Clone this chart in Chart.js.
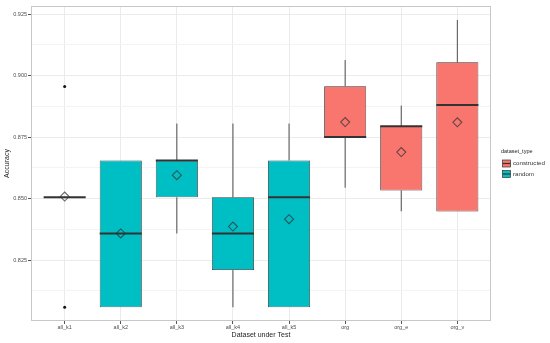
<!DOCTYPE html>
<html>
<head>
<meta charset="utf-8">
<script src="https://cdn.jsdelivr.net/npm/chart.js@4.4.1/dist/chart.umd.min.js"></script>
<style>
html, body { margin: 0; padding: 0; background: #fff; }
#wrap { width: 550px; height: 343px; }
</style>
</head>
<body>
<div id="wrap"><canvas id="box-chart"></canvas></div>
<script>
// data
const categories = ['all_k1', 'all_k2', 'all_k3', 'all_k4', 'all_k5', 'org', 'org_e', 'org_v'];
const types = ['random', 'random', 'random', 'random', 'random', 'constructed', 'constructed', 'constructed'];
const whiskerLow = [0.8505, 0.8058, 0.8358, 0.8058, 0.8058, 0.8544, 0.8448, 0.8447];
const q1 = [0.8505, 0.8058, 0.8505, 0.8209, 0.8058, 0.8750, 0.8533, 0.8447];
const median = [0.8505, 0.8358, 0.8655, 0.8358, 0.8505, 0.8750, 0.8794, 0.8880];
const q3 = [0.8505, 0.8655, 0.8655, 0.8505, 0.8655, 0.8957, 0.8794, 0.9054];
const whiskerHigh = [0.8505, 0.8655, 0.8805, 0.8805, 0.8805, 0.9063, 0.8878, 0.9226];
const means = [0.8508, 0.8358, 0.8595, 0.8386, 0.8416, 0.8811, 0.8689, 0.8810];
const outlierCats = ['all_k1', 'all_k1'];
const outlierValues = [0.8956, 0.8058];

const yMajorTicks = [0.825, 0.850, 0.875, 0.900, 0.925];
const yMinorTicks = [0.8125, 0.8375, 0.8625, 0.8875, 0.9125];

const typeNames = ['constructed', 'random'];
const typeColors = { constructed: '#F8766D', random: '#00BFC4' };

const FONT = '"Liberation Sans", Arial, sans-serif';

function isMajor(v) {
	return yMajorTicks.some(t => Math.abs(t - v) < 1e-6);
}

function boxData(type) {
	const out = [];
	categories.forEach((c, i) => {
		if (types[i] === type) out.push({ x: i + 1, y: [q1[i], q3[i]] });
	});
	return out;
}

// whiskers + medians, drawn between the boxes and the mean diamonds
const boxLines = {
	id: 'boxLines',
	beforeDatasetDraw(chart, args) {
		if (chart.data.datasets[args.index].label !== 'mean') return;
		const x = chart.scales.x, y = chart.scales.y, ctx = chart.ctx;
		const half = 0.375 * (x.getPixelForValue(2) - x.getPixelForValue(1));
		ctx.save();
		categories.forEach((c, i) => {
			const px = x.getPixelForValue(i + 1);
			ctx.strokeStyle = '#4d4d4d';
			ctx.lineWidth = 1;
			ctx.beginPath();
			ctx.moveTo(px, y.getPixelForValue(q3[i]));
			ctx.lineTo(px, y.getPixelForValue(whiskerHigh[i]));
			ctx.moveTo(px, y.getPixelForValue(q1[i]));
			ctx.lineTo(px, y.getPixelForValue(whiskerLow[i]));
			ctx.stroke();
			const py = y.getPixelForValue(median[i]);
			ctx.strokeStyle = '#333';
			ctx.lineWidth = 2;
			ctx.beginPath();
			ctx.moveTo(px - half, py);
			ctx.lineTo(px + half, py);
			ctx.stroke();
		});
		ctx.restore();
	}
};

const panelBorder = {
	id: 'panelBorder',
	afterDraw(chart) {
		const a = chart.chartArea, ctx = chart.ctx;
		ctx.save();
		ctx.strokeStyle = '#c8c8c8';
		ctx.lineWidth = 1;
		ctx.strokeRect(a.left + 0.5, a.top + 0.5, a.right - a.left - 1, a.bottom - a.top - 1);
		ctx.restore();
	}
};

// ggplot style legend at the right of the panel
const ggLegend = {
	id: 'ggLegend',
	afterDraw(chart) {
		const ctx = chart.ctx, a = chart.chartArea;
		const x0 = a.right + 10, yc = (a.top + a.bottom) / 2;
		ctx.save();
		ctx.textAlign = 'left';
		ctx.textBaseline = 'middle';
		ctx.fillStyle = '#222';
		ctx.font = '5.5px ' + FONT;
		ctx.fillText('dataset_type', x0, yc - 12.5);
		typeNames.forEach((t, k) => {
			const ky = yc + k * 10.5;
			ctx.fillStyle = typeColors[t];
			ctx.strokeStyle = '#333';
			ctx.lineWidth = 0.7;
			ctx.fillRect(x0 + 1.5, ky - 3.5, 8, 7);
			ctx.strokeRect(x0 + 1.5, ky - 3.5, 8, 7);
			ctx.beginPath();
			ctx.lineWidth = 1.2;
			ctx.moveTo(x0 + 1.5, ky);
			ctx.lineTo(x0 + 9.5, ky);
			ctx.stroke();
			ctx.fillStyle = '#333';
			ctx.font = '6.2px ' + FONT;
			ctx.fillText(t, x0 + 12, ky);
		});
		ctx.restore();
	}
};

new Chart(document.getElementById('box-chart'), {
	type: 'bar',
	data: {
		datasets: [{
				type: 'scatter',
				label: 'mean',
				data: categories.map((c, i) => ({ x: i + 1, y: means[i] })),
				pointStyle: 'rectRot',
				pointRadius: 4.5,
				borderWidth: 1.1,
				borderColor: 'rgba(51,51,51,0.75)',
				backgroundColor: 'rgba(0,0,0,0)',
				order: 1
			}, {
				type: 'scatter',
				label: 'outlier',
				data: outlierCats.map((c, i) => ({ x: categories.indexOf(c) + 1, y: outlierValues[i] })),
				pointStyle: 'circle',
				pointRadius: 1.5,
				borderWidth: 0,
				backgroundColor: '#111',
				order: 1
			}, {
				label: 'constructed',
				data: boxData('constructed'),
				backgroundColor: typeColors.constructed,
				borderColor: '#333',
				borderWidth: 0.8,
				borderSkipped: false,
				grouped: false,
				barPercentage: 0.75,
				categoryPercentage: 1,
				order: 2
			}, {
				label: 'random',
				data: boxData('random'),
				backgroundColor: typeColors.random,
				borderColor: '#333',
				borderWidth: 0.8,
				borderSkipped: false,
				grouped: false,
				barPercentage: 0.75,
				categoryPercentage: 1,
				order: 2
			}
		]
	},
	options: {
		responsive: true,
		maintainAspectRatio: false,
		animation: false,
		devicePixelRatio: 1,
		layout: { padding: { top: 6, right: 59, left: 0, bottom: 0 } },
		plugins: {
			legend: { display: false },
			tooltip: { enabled: false }
		},
		scales: {
			x: {
				type: 'linear',
				min: 0.4,
				max: 8.6,
				offset: false,
				afterBuildTicks: axis => { axis.ticks = categories.map((c, i) => ({ value: i + 1 })); },
				afterFit: axis => { axis.height = 22; },
				grid: { offset: false, color: '#ebebeb', lineWidth: 1, tickLength: 3, tickColor: '#555' },
				border: { display: false },
				ticks: {
					autoSkip: false,
					maxRotation: 0,
					padding: 0,
					color: '#4d4d4d',
					font: { size: 5.5, family: FONT },
					callback: v => categories[v - 1]
				},
				title: {
					display: true,
					text: 'Dataset under Test',
					color: '#222',
					font: { size: 7, family: FONT },
					padding: { top: 0, bottom: 4 }
				}
			},
			y: {
				min: 0.8002,
				max: 0.9283,
				afterBuildTicks: axis => {
					axis.ticks = yMinorTicks.concat(yMajorTicks).sort((a, b) => a - b).map(v => ({ value: v }));
				},
				afterFit: axis => { axis.width = 31; },
				grid: {
					color: ctx => (ctx.tick && isMajor(ctx.tick.value)) ? '#ebebeb' : '#f4f4f4',
					tickColor: ctx => (ctx.tick && isMajor(ctx.tick.value)) ? '#555' : 'rgba(0,0,0,0)',
					lineWidth: 1,
					tickLength: 3
				},
				border: { display: false },
				ticks: {
					autoSkip: false,
					padding: 1,
					color: '#4d4d4d',
					font: { size: 5.5, family: FONT },
					callback: v => isMajor(v) ? v.toFixed(3) : ''
				},
				title: {
					display: true,
					text: 'Accuracy',
					color: '#222',
					font: { size: 7, family: FONT },
					padding: { top: 3, bottom: 0 }
				}
			}
		}
	},
	plugins: [boxLines, panelBorder, ggLegend]
});
</script>
</body>
</html>
